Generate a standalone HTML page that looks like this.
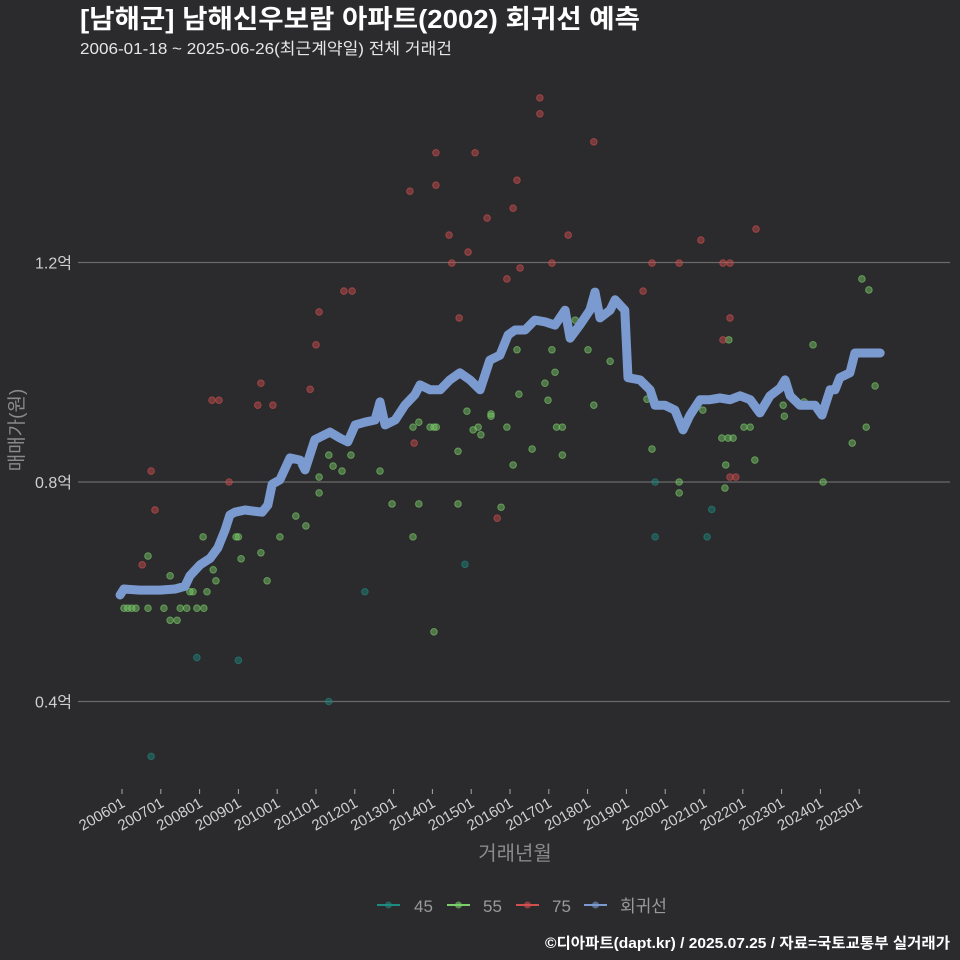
<!DOCTYPE html>
<html><head><meta charset="utf-8">
<style>
html,body{margin:0;padding:0;background:#2b2a2c;}
svg{display:block;font-family:"Liberation Sans","Noto Sans CJK KR",sans-serif;}
</style></head>
<body>
<svg id="chart" width="960" height="960" viewBox="0 0 960 960">
<rect x="0" y="0" width="960" height="960" fill="#2b2a2c"/>
<text x="80" y="28" font-size="26" font-weight="bold" fill="#ffffff" textLength="560" lengthAdjust="spacingAndGlyphs">[남해군] 남해신우보람 아파트(2002) 회귀선 예측</text>
<text x="80" y="54" font-size="16" fill="#e6e6e6" textLength="372" lengthAdjust="spacingAndGlyphs">2006-01-18 ~ 2025-06-26(최근계약일) 전체 거래건</text>
<g id="grid"></g>
<g id="yaxis"></g>
<g id="xaxis"></g>
<g id="points"></g>
<g id="line"></g>
<text x="0" y="0" transform="translate(23,430) rotate(-90)" text-anchor="middle" font-size="19" fill="#8a8a8a">매매가(원)</text>
<text x="515" y="860" text-anchor="middle" font-size="20" fill="#8a8a8a">거래년월</text>
<g>
  <g>
    <line x1="377" y1="905" x2="400" y2="905" stroke="#1f8a80" stroke-width="2"/><circle cx="388.5" cy="905" r="3.5" fill="#1f8a80" opacity="0.6"/>
    <text x="414" y="912" font-size="17" fill="#9a9a9a">45</text></g>
  <g>
    <line x1="447" y1="905" x2="470" y2="905" stroke="#7ccf6a" stroke-width="2"/><circle cx="458.5" cy="905" r="3.5" fill="#7ccf6a" opacity="0.6"/>
    <text x="483" y="912" font-size="17" fill="#9a9a9a">55</text></g>
  <g>
    <line x1="516" y1="905" x2="539" y2="905" stroke="#d05050" stroke-width="2"/><circle cx="527.5" cy="905" r="3.5" fill="#d05050" opacity="0.6"/>
    <text x="552" y="912" font-size="17" fill="#9a9a9a">75</text></g>
  <g>
    <line x1="584" y1="905" x2="607" y2="905" stroke="#7b9bd0" stroke-width="2"/><circle cx="595.5" cy="905" r="3.5" fill="#7b9bd0" opacity="0.6"/>
    <text x="620" y="912" font-size="17" fill="#9a9a9a">회귀선</text></g>
</g>
<text x="950" y="948" text-anchor="end" font-size="15" font-weight="bold" fill="#ffffff" textLength="405" lengthAdjust="spacingAndGlyphs">©디아파트(dapt.kr) / 2025.07.25 / 자료=국토교통부 실거래가</text>
</svg>
<script>
const yTicks = [0.4, 0.8, 1.2];
const yTickLabels = ["0.4억", "0.8억", "1.2억"];
const xTickYears = [2006,2007,2008,2009,2010,2011,2012,2013,2014,2015,2016,2017,2018,2019,2020,2021,2022,2023,2024,2025];
const xTickLabels = ["200601","200701","200801","200901","201001","201101","201201","201301","201401","201501","201601","201701","201801","201901","202001","202101","202201","202301","202401","202501"];
const lineYears = [2005.95,2006.05,2006.46,2006.98,2007.37,2007.62,2007.75,2008.01,2008.27,2008.47,2008.66,2008.78,2008.91,2009.17,2009.61,2009.76,2009.87,2010.07,2010.33,2010.59,2010.72,2010.97,2011.36,2011.62,2011.82,2012.01,2012.26,2012.52,2012.65,2012.78,2013.04,2013.29,2013.55,2013.68,2013.94,2014.2,2014.45,2014.71,2014.97,2015.23,2015.48,2015.74,2015.95,2016.13,2016.39,2016.64,2016.9,2017.16,2017.42,2017.55,2017.8,2018.06,2018.19,2018.32,2018.58,2018.71,2018.96,2019.04,2019.35,2019.61,2019.74,2019.99,2020.25,2020.46,2020.64,2020.9,2021.15,2021.41,2021.67,2021.93,2022.19,2022.44,2022.7,2022.96,2023.09,2023.22,2023.47,2023.86,2024.04,2024.25,2024.38,2024.5,2024.76,2024.89,2025.54];
const lineValues = [0.594,0.605,0.603,0.603,0.605,0.610,0.629,0.649,0.661,0.680,0.713,0.740,0.745,0.749,0.745,0.758,0.796,0.804,0.844,0.840,0.822,0.877,0.891,0.880,0.873,0.904,0.909,0.913,0.946,0.904,0.913,0.940,0.959,0.977,0.968,0.968,0.986,0.999,0.986,0.968,1.022,1.031,1.068,1.077,1.077,1.095,1.092,1.086,1.113,1.062,1.086,1.113,1.146,1.099,1.113,1.132,1.113,0.990,0.986,0.968,0.940,0.940,0.931,0.895,0.922,0.950,0.950,0.953,0.950,0.957,0.950,0.926,0.957,0.971,0.986,0.957,0.940,0.940,0.922,0.968,0.968,0.990,0.999,1.035,1.035];
const p45Years = [2006.75,2007.93,2009.0,2011.33,2012.26,2014.84,2019.74,2021.08,2021.2,2019.74];
const p45Values = [0.300,0.480,0.475,0.400,0.600,0.650,0.700,0.700,0.750,0.800];
const p55Years = [2006.05,2006.15,2006.25,2006.36,2006.67,2006.67,2007.08,2007.24,2007.42,2007.5,2007.67,2007.93,2008.11,2007.24,2007.75,2007.83,2008.19,2008.35,2008.42,2008.09,2008.94,2009.0,2009.07,2009.58,2009.74,2010.07,2010.48,2010.74,2011.08,2011.08,2011.33,2011.44,2011.67,2011.9,2012.65,2012.96,2013.5,2013.65,2013.5,2013.65,2013.94,2014.04,2014.1,2014.04,2014.66,2014.66,2014.89,2015.05,2015.18,2015.25,2015.51,2015.51,2015.77,2015.92,2016.08,2016.18,2016.23,2016.57,2016.9,2016.98,2017.08,2017.16,2017.2,2017.35,2017.35,2017.68,2018.01,2018.16,2018.58,2019.53,2019.66,2020.36,2020.36,2020.97,2021.46,2021.62,2021.56,2021.75,2022.03,2022.19,2022.31,2021.54,2023.04,2023.07,2023.58,2023.81,2024.82,2025.07,2025.18,2025.25,2025.41,2021.64,2024.07];
const p55Values = [0.570,0.570,0.570,0.570,0.570,0.665,0.570,0.548,0.548,0.570,0.570,0.570,0.570,0.629,0.600,0.600,0.600,0.640,0.620,0.700,0.700,0.700,0.660,0.671,0.620,0.700,0.738,0.720,0.780,0.809,0.849,0.829,0.820,0.849,0.820,0.760,0.700,0.760,0.900,0.909,0.900,0.900,0.900,0.527,0.760,0.856,0.929,0.895,0.900,0.886,0.920,0.924,0.754,0.900,0.831,1.041,0.960,0.860,0.980,0.949,1.041,1.000,0.900,0.900,0.849,1.095,1.041,0.940,1.020,0.951,0.860,0.800,0.780,0.931,0.880,0.880,0.831,0.880,0.900,0.900,0.840,0.789,0.940,0.920,0.946,1.050,0.871,1.170,0.900,1.150,0.975,1.059,0.800];
const p75Years = [2016.77,2016.77,2018.16,2014.09,2015.1,2014.09,2013.42,2016.18,2016.08,2015.41,2014.43,2017.5,2022.34,2020.92,2014.92,2014.5,2016.26,2017.08,2019.66,2020.36,2021.49,2021.67,2015.92,2019.43,2011.72,2011.93,2011.08,2014.69,2021.67,2011.0,2021.49,2010.85,2009.58,2008.32,2008.5,2009.5,2009.89,2013.53,2006.75,2008.76,2006.85,2006.52,2015.67,2021.67,2021.82];
const p75Values = [1.500,1.471,1.420,1.400,1.400,1.341,1.330,1.350,1.299,1.281,1.250,1.250,1.261,1.241,1.219,1.199,1.190,1.199,1.199,1.199,1.199,1.199,1.170,1.148,1.148,1.148,1.110,1.099,1.099,1.050,1.059,0.969,0.980,0.949,0.949,0.940,0.940,0.871,0.820,0.800,0.749,0.649,0.734,0.809,0.809];

const NS = "http://www.w3.org/2000/svg";
function xScale(yr){ return 122 + (yr - 2006) * 38.8; }
function yScale(v){ return 482 - (v - 0.8) * 548.75; }
function mk(tag, attrs, parent){ const e = document.createElementNS(NS, tag); for (const k in attrs) e.setAttribute(k, attrs[k]); parent.appendChild(e); return e; }

const grid = document.getElementById('grid');
const yaxis = document.getElementById('yaxis');
yTicks.forEach((v, i) => {
  const gl = mk('line', {x1:78, x2:950, y1:yScale(v), y2:yScale(v), stroke:'#6a6a6a', 'stroke-width':1.2}, grid);
  
  
  const t = mk('text', {x:72, y:yScale(v)+6, 'text-anchor':'end', 'font-size':16, fill:'#d0d0d0'}, yaxis);
  t.textContent = yTickLabels[i];
  
  
});
const xaxis = document.getElementById('xaxis');
xTickYears.forEach((yr, i) => {
  const x = xScale(yr);
  const tk = mk('line', {x1:x, x2:x, y1:789, y2:794, stroke:'#aaaaaa', 'stroke-width':1}, xaxis);
  
  
  const t = mk('text', {x:0, y:0, transform:`translate(${x+4},806) rotate(-30)`, 'text-anchor':'end', 'font-size':15, fill:'#d0d0d0'}, xaxis);
  t.textContent = xTickLabels[i];
  
  
});

const pts = document.getElementById('points');
function drawPts(years, vals, color, name){
  years.forEach((yr, i) => {
    const c = mk('circle', {cx:xScale(yr), cy:yScale(vals[i]), r:3.3, fill:color, 'fill-opacity':0.45, stroke:color, 'stroke-opacity':0.6, 'stroke-width':1}, pts);
    
    
  });
}
drawPts(p45Years, p45Values, '#1f8a80', 'point-45');
drawPts(p55Years, p55Values, '#7ccf6a', 'point-55');
drawPts(p75Years, p75Values, '#d05050', 'point-75');

const lg = document.getElementById('line');
const d = lineYears.map((yr, i) => (i ? 'L' : 'M') + xScale(yr).toFixed(1) + ',' + yScale(lineValues[i]).toFixed(1)).join(' ');
const path = mk('path', {d:d, fill:'none', stroke:'#7b9bd0', 'stroke-width':9, 'stroke-linejoin':'round', 'stroke-linecap':'round'}, lg);


</script>
</body></html>
